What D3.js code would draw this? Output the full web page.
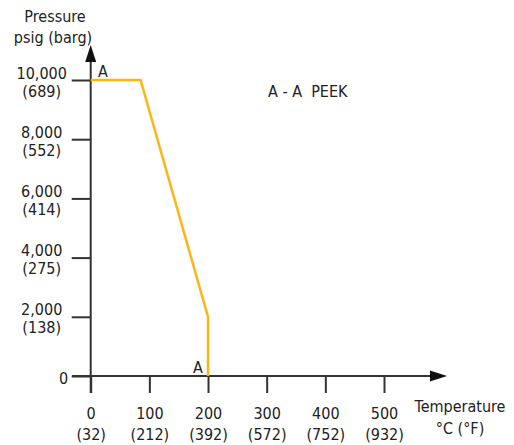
<!DOCTYPE html>
<html>
<head>
<meta charset="utf-8">
<title>PEEK pressure / temperature</title>
<script src="https://cdn.jsdelivr.net/npm/d3@7"></script>
<style>
  body { margin: 0; background: #fff; }
  svg text {
    font-family: "Liberation Sans Narrow", "DejaVu Sans Condensed", "Roboto", sans-serif;
    font-size: 16px;
    fill: #222;
    white-space: pre;
  }
  .axis path, .axis line { stroke: #333; stroke-width: 2; }
</style>
</head>
<body>
<div id="chart"></div>
<script>
// data
var tempC = [0, 100, 200, 300, 400, 500];
var tempF = ["(32)", "(212)", "(392)", "(572)", "(752)", "(932)"];
var psig = [0, 2000, 4000, 6000, 8000, 10000];
var barg = ["", "(138)", "(275)", "(414)", "(552)", "(689)"];
var peekT = [0, 85, 200, 200];
var peekP = [10000, 10000, 2000, 0];

var w = 514, h = 445;
var svg = d3.select("#chart").append("svg").attr("width", w).attr("height", h);

var x = d3.scaleLinear().domain([0, 500]).range([90.7, 384]);
var y = d3.scaleLinear().domain([0, 10000]).range([376, 80]);

// y axis ticks + labels
var yAxis = svg.append("g").attr("class", "axis")
  .attr("transform", "translate(" + x(0) + ",0)")
  .call(d3.axisLeft(y).tickValues(psig).tickSize(19).tickFormat(""));
yAxis.select(".domain").remove();
yAxis.selectAll(".tick").each(function(d, i) {
  var t = d3.select(this).append("text")
    .attr("x", i == 0 ? -27 : -49).attr("y", 0)
    .attr("text-anchor", "middle");
  t.append("tspan").attr("x", i == 0 ? -27 : -49).attr("dy", i == 0 ? 7 : -2).text(d3.format(",")(d));
  if (barg[i]) t.append("tspan").attr("x", -49).attr("dy", 18).text(barg[i]);
});

// x axis ticks + labels
var xAxis = svg.append("g").attr("class", "axis")
  .attr("transform", "translate(0," + y(0) + ")")
  .call(d3.axisBottom(x).tickValues(tempC).tickSize(17).tickFormat(""));
xAxis.select(".domain").remove();
xAxis.selectAll(".tick").each(function(d, i) {
  var t = d3.select(this).append("text").attr("text-anchor", "middle");
  t.append("tspan").attr("x", 0).attr("y", 43).text(d);
  t.append("tspan").attr("x", 0).attr("y", 64).text(tempF[i]);
});

// axis lines with arrows
svg.append("line").attr("x1", 72).attr("x2", 432).attr("y1", y(0)).attr("y2", y(0))
  .attr("stroke", "#333").attr("stroke-width", 2);
svg.append("line").attr("x1", x(0)).attr("x2", x(0)).attr("y1", y(0) + 17).attr("y2", 60)
  .attr("stroke", "#333").attr("stroke-width", 2);
svg.append("path")
  .attr("d", "M447," + y(0) + "L430," + (y(0) - 5.5) + "L430," + (y(0) + 5.5) + "Z")
  .attr("fill", "#111");
svg.append("path")
  .attr("d", "M" + x(0) + ",45L" + (x(0) - 5.5) + ",62L" + (x(0) + 5.5) + ",62Z")
  .attr("fill", "#111");

// curve
var line = d3.line().x(function(d, i) { return x(peekT[i]); }).y(function(d) { return y(d); });
svg.append("path").datum(peekP)
  .attr("d", line)
  .attr("fill", "none").attr("stroke", "#fdb515").attr("stroke-width", 2.5);

// titles
svg.append("text").attr("x", 55).attr("y", 22).attr("text-anchor", "middle").text("Pressure");
svg.append("text").attr("x", 53).attr("y", 43).attr("text-anchor", "middle").text("psig (barg)");
svg.append("text").attr("x", 460).attr("y", 412).attr("text-anchor", "middle").text("Temperature");
svg.append("text").attr("x", 460).attr("y", 434).attr("text-anchor", "middle").text("°C (°F)");

svg.append("text").attr("x", 268).attr("y", 97).text("A - A\u00a0\u00a0PEEK");
svg.append("text").attr("x", 98).attr("y", 77).text("A");
svg.append("text").attr("x", 193).attr("y", 373).text("A");
</script>
</body>
</html>
